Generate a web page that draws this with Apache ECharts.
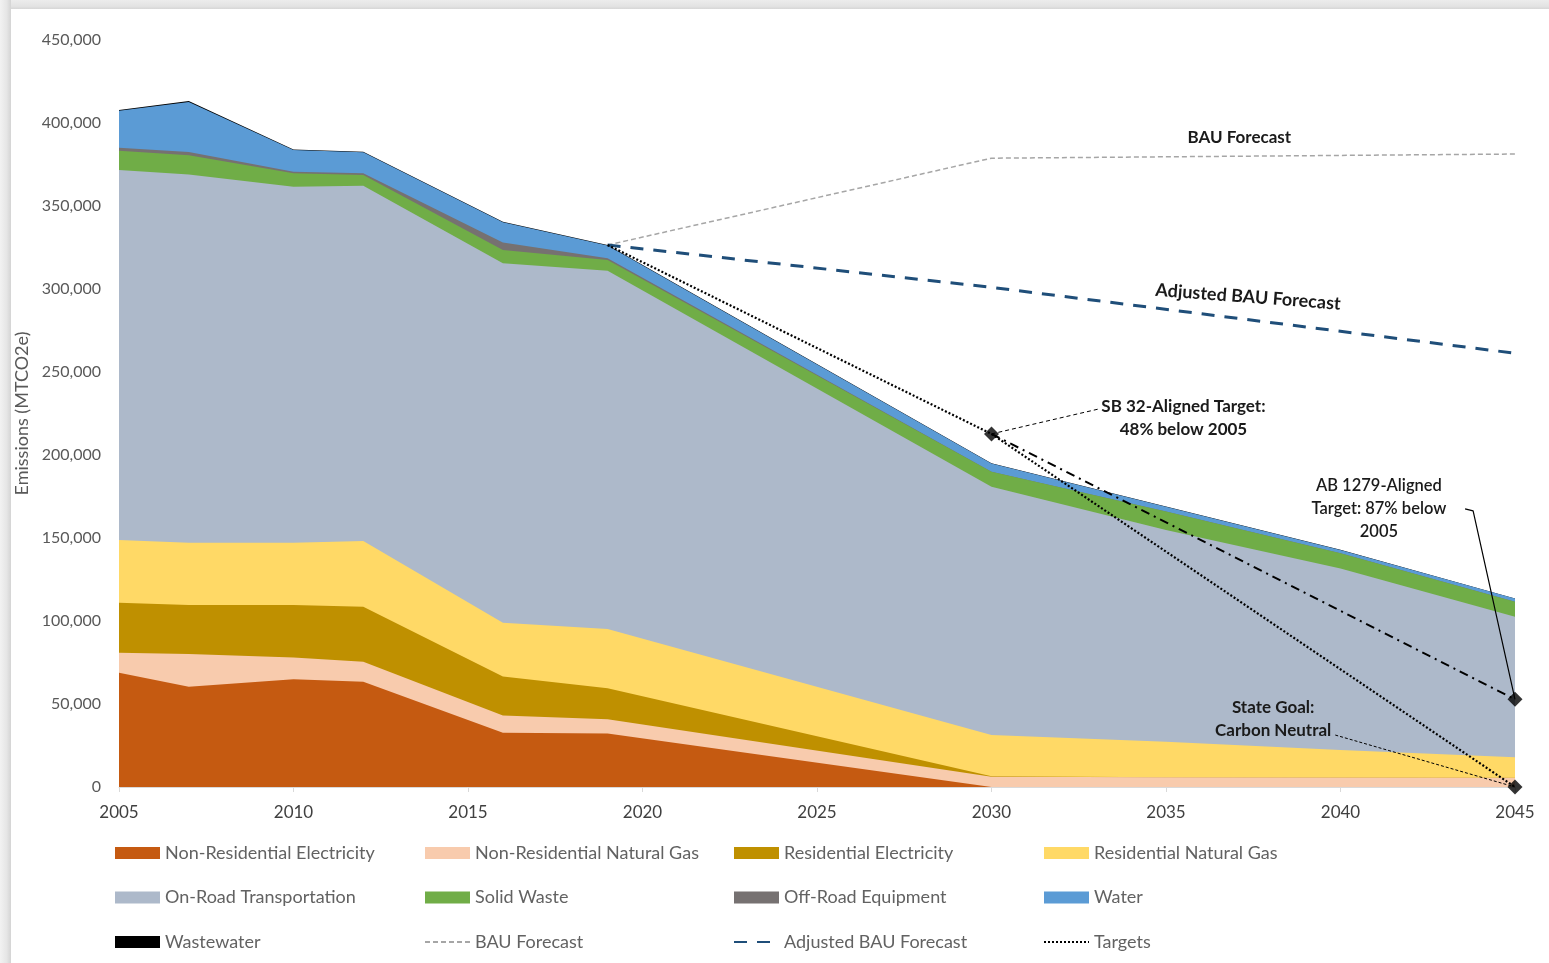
<!DOCTYPE html>
<html>
<head>
<meta charset="utf-8">
<script src="https://cdn.jsdelivr.net/npm/echarts@6/dist/echarts.min.js"></script>
<style>
  html, body { margin:0; padding:0; background:#ffffff; }
  #frameTop { position:absolute; left:0; top:0; width:1549px; height:9px;
    background:linear-gradient(to bottom,#ececec 0%,#e3e3e3 70%,#d6d6d6 100%); }
  #frameLeft { position:absolute; left:0; top:0; width:11px; height:963px;
    background:linear-gradient(to right,#f2f2f2 0%,#e6e6e6 60%,#d4d4d4 100%); }
  #chart { position:absolute; left:0; top:0; width:1549px; height:963px; }
</style>
</head>
<body>
<div id="frameTop"></div>
<div id="frameLeft"></div>
<div id="chart"></div>
<script>
// ---------------- DATA ----------------
const years = [2005, 2007, 2010, 2012, 2016, 2019, 2030, 2035, 2040, 2045];

const nonResElec  = [68900, 60400, 64900, 63400, 32700, 32300,      0,      0,      0,     0];
const nonResGas   = [12000, 19700, 13100, 12100, 10300,  8500,   6200,   5800,   5700,  5600];
const resElec     = [30100, 29500, 31600, 33100, 23500, 18700,    300,      0,      0,     0];
const resGas      = [37800, 37600, 37600, 39600, 32500, 35700,  24800,  21500,  16600, 12300];
const onRoad      = [222900,221800,214400,214000,216500,215800, 149600, 127500, 109400, 84700];
const solidWaste  = [11600, 11500,  8100,  6500,  8000,  6500,   9000,  11100,   9100,  9000];
const offRoad     = [ 1800,  2000,  1000,  1000,  4500,  1000,      0,      0,      0,     0];
const water       = [22300, 30200, 13100, 12700, 12200,  7700,   5000,   3000,   2000,  1900];
const wastewater  = [  500,   500,   300,   300,   300,   300,    100,    100,    100,   100];

const forecastYears  = [2019, 2030, 2045];
const bauForecast    = [326500, 378800, 381300];
const adjBauForecast = [326500, 301000, 261300];
const targetYears    = [2019, 2030, 2045];
const targets        = [326500, 212700, 0];
const ab1279Years    = [2030, 2045];
const ab1279Target   = [212700, 52800];
const targetPointYears  = [2030, 2045, 2045];
const targetPointValues = [212700, 52800, 0];

const yTicks = { min: 0, max: 450000, interval: 50000 };
const xTicks = { min: 2005, max: 2045, interval: 5 };

// leader lines (data coordinates)
const leaderSB32  = [[2030, 212700], [2033.07, 227700]];
const leaderAB    = [[2043.57, 167500], [2043.8, 166300], [2045, 52800]];
const leaderState = [[2039.85, 31300], [2045, 0]];

// annotation texts (data coordinates of the text centre)
const annotations = [
  { text: 'BAU Forecast', at: [2037.1, 391000], weight: 'bold', size: 17, rot: 0 },
  { text: 'Adjusted BAU Forecast', at: [2037.35, 295200], weight: 'bold', size: 18, rot: -0.075 },
  { text: 'SB 32-Aligned Target:\n48% below 2005', at: [2035.5, 222300], weight: 'bold', size: 17, rot: 0 },
  { text: 'AB 1279-Aligned\nTarget: 87% below\n2005', at: [2041.1, 167500], weight: '600', size: 16.5, rot: 0 },
  { text: 'State Goal:\nCarbon Neutral', at: [2038.07, 41000], weight: 'bold', size: 17, rot: 0 }
];

// ---------------- CHART ----------------
const FONT = 'Lato, "Open Sans", sans-serif';
const pairs = (xs, ys) => xs.map((x, i) => [x, ys[i]]);

const areaDefs = [
  ['Non-Residential Electricity', nonResElec, '#c55a11'],
  ['Non-Residential Natural Gas', nonResGas, '#f8cbad'],
  ['Residential Electricity', resElec, '#bf9000'],
  ['Residential Natural Gas', resGas, '#ffd966'],
  ['On-Road Transportation', onRoad, '#adb9ca'],
  ['Solid Waste', solidWaste, '#70ad47'],
  ['Off-Road Equipment', offRoad, '#767171'],
  ['Water', water, '#5b9bd5'],
  ['Wastewater', wastewater, '#000000']
];

// cumulative (stacked) totals, computed from the arrays above
const running = years.map(() => 0);
const stacked = areaDefs.map(([name, vals, color]) => {
  const cum = vals.map((v, i) => (running[i] += v));
  return { name, color, cum: cum.slice() };
});

// draw top layer first so lower layers paint over it (equivalent to stacking)
const series = stacked.slice().reverse().map(s => ({
  name: s.name, type: 'line', data: pairs(years, s.cum),
  color: s.color, symbol: 'none', showSymbol: false,
  lineStyle: { width: 0, color: s.color },
  itemStyle: { color: s.color },
  areaStyle: { color: s.color, opacity: 1 },
  emphasis: { disabled: true }, silent: true, z: 2
}));

series.push({
  name: 'BAU Forecast', type: 'line', data: pairs(forecastYears, bauForecast),
  symbol: 'none', color: '#a6a6a6',
  lineStyle: { color: '#a6a6a6', width: 1.5, type: [5, 3] }, z: 5, silent: true
});
series.push({
  name: 'Adjusted BAU Forecast', type: 'line', data: pairs(forecastYears, adjBauForecast),
  symbol: 'none', color: '#1f4e79',
  lineStyle: { color: '#1f4e79', width: 3, type: [13, 10] }, z: 5, silent: true
});
series.push({
  name: 'Targets', type: 'line', data: pairs(targetYears, targets),
  symbol: 'none', color: '#000000',
  lineStyle: { color: '#000000', width: 2.2, type: [2, 2] }, z: 6, silent: true
});
series.push({
  name: 'AB 1279 Path', type: 'line', data: pairs(ab1279Years, ab1279Target),
  symbol: 'none', color: '#000000',
  lineStyle: { color: '#000000', width: 2, type: [9, 5, 2, 5] }, z: 6, silent: true
});
series.push({
  name: 'Target Points', type: 'scatter', data: pairs(targetPointYears, targetPointValues),
  symbol: 'diamond', symbolSize: 15, itemStyle: { color: '#000000' }, z: 7, silent: true
});
series.push({
  name: 'leader1', type: 'line', data: leaderSB32, symbol: 'none',
  lineStyle: { color: '#000', width: 1, type: [4, 3] }, z: 6, silent: true
});
series.push({
  name: 'leader2', type: 'line', data: leaderAB, symbol: 'none',
  lineStyle: { color: '#000', width: 1.2 }, z: 6, silent: true
});
series.push({
  name: 'leader3', type: 'line', data: leaderState, symbol: 'none',
  lineStyle: { color: '#000', width: 1, type: [3, 2] }, z: 6, silent: true
});

const legendCols = [
  { left: 115, names: ['Non-Residential Electricity', 'On-Road Transportation', 'Wastewater'] },
  { left: 424, names: ['Non-Residential Natural Gas', 'Solid Waste', 'BAU Forecast'] },
  { left: 733, names: ['Residential Electricity', 'Off-Road Equipment', 'Adjusted BAU Forecast'] },
  { left: 1043, names: ['Residential Natural Gas', 'Water', 'Targets'] }
];
const lineNames = ['BAU Forecast', 'Adjusted BAU Forecast', 'Targets'];

const legends = legendCols.map(col => ({
  orient: 'vertical', left: col.left, top: 843, padding: 0,
  itemWidth: 45, itemHeight: 12, itemGap: 24.5,
  selectedMode: false,
  textStyle: { fontFamily: FONT, fontSize: 18, color: '#626262', lineHeight: 20 },
  data: col.names.map(n => lineNames.includes(n)
    ? { name: n, itemStyle: { opacity: 0 } }
    : { name: n, icon: 'rect' })
}));

const chart = echarts.init(document.getElementById('chart'), null, { renderer: 'canvas' });
chart.setOption({
  animation: false,
  backgroundColor: 'transparent',
  grid: { left: 119, right: 34, top: 40, bottom: 176, containLabel: false },
  xAxis: {
    type: 'value', min: xTicks.min, max: xTicks.max, interval: xTicks.interval,
    axisLine: { show: true, lineStyle: { color: '#d9d9d9', width: 1 } },
    axisTick: { show: true, length: 5, lineStyle: { color: '#d9d9d9' } },
    splitLine: { show: false },
    axisLabel: { formatter: v => String(v), fontFamily: FONT, fontSize: 17, color: '#404040', margin: 17 }
  },
  yAxis: {
    type: 'value', min: yTicks.min, max: yTicks.max, interval: yTicks.interval,
    name: 'Emissions (MTCO2e)', nameLocation: 'middle', nameGap: 84, nameRotate: 90,
    nameTextStyle: { fontFamily: FONT, fontSize: 18, color: '#595959' },
    axisLine: { show: false }, axisTick: { show: false }, splitLine: { show: false },
    axisLabel: { formatter: v => v.toLocaleString('en-US'), fontFamily: FONT, fontSize: 16, color: '#595959', margin: 18 }
  },
  legend: legends,
  series
});

const graphics = annotations.map(a => {
  const p = chart.convertToPixel({ xAxisIndex: 0, yAxisIndex: 0 }, a.at);
  return {
    type: 'text', x: p[0], y: p[1], rotation: a.rot, z: 100,
    style: {
      text: a.text, fill: '#1a1a1a',
      font: a.weight + ' ' + a.size + 'px ' + FONT,
      align: 'center', verticalAlign: 'middle', lineHeight: 23
    }
  };
});
chart.setOption({ graphic: graphics });
</script>
</body>
</html>
